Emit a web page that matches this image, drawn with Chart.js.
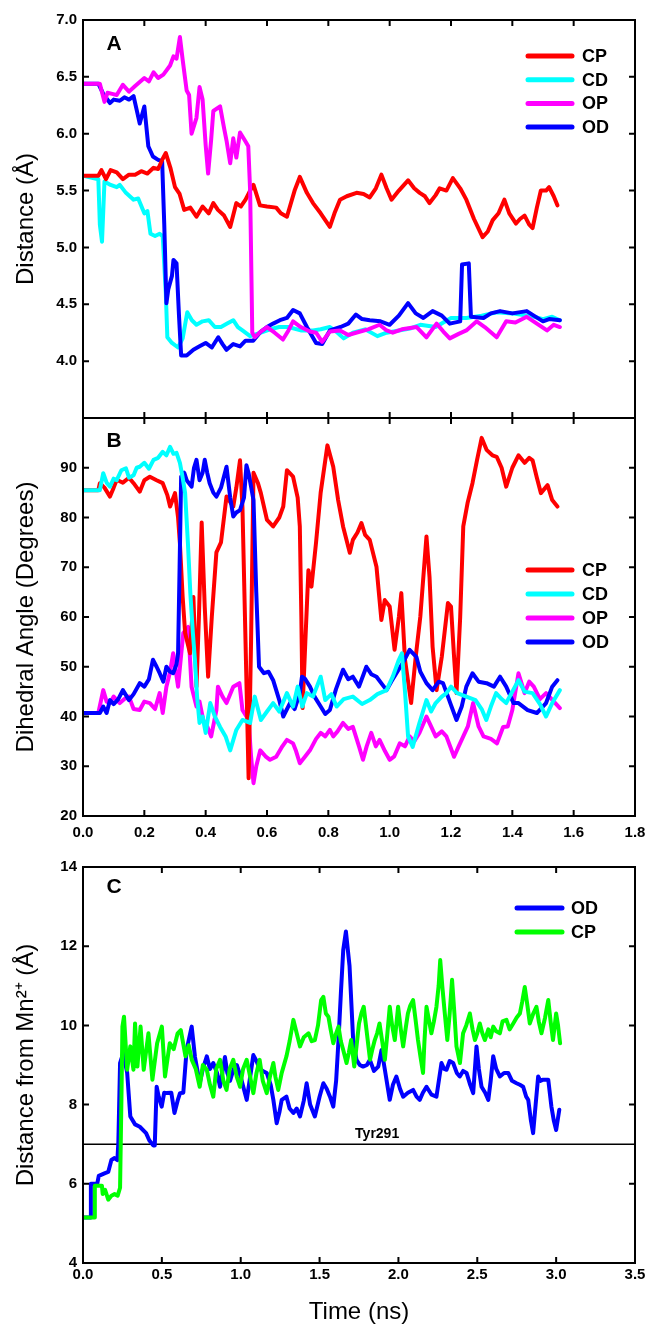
<!DOCTYPE html>
<html>
<head>
<meta charset="utf-8">
<script src="https://cdn.jsdelivr.net/npm/chart.js@4.4.1/dist/chart.umd.min.js"></script>
<style>
  body { margin: 0; background: #fff; }
  .panel { position: absolute; left: 0; }
</style>
</head>
<body>
<div class="panel" style="top:0px"><canvas id="chartA" width="649" height="420"></canvas></div>
<div class="panel" style="top:400px"><canvas id="chartB" width="649" height="445"></canvas></div>
<div class="panel" style="top:845px"><canvas id="chartC" width="649" height="484"></canvas></div>
<script>
// [time (ns), value] pairs
var namesAB = ['CP', 'CD', 'OP', 'OD'];
var namesC = ['OD', 'CP'];

// panel A: distance (Å)
var distCP = [[0,5.63],[0.05,5.63],[0.06,5.68],[0.075,5.6],[0.09,5.68],[0.11,5.66],[0.13,5.6],[0.15,5.64],[0.17,5.64],[0.19,5.67],[0.21,5.65],[0.23,5.7],[0.245,5.69],[0.26,5.78],[0.27,5.83],[0.285,5.7],[0.3,5.53],[0.315,5.47],[0.33,5.33],[0.35,5.35],[0.37,5.27],[0.39,5.36],[0.41,5.3],[0.425,5.39],[0.44,5.33],[0.46,5.28],[0.48,5.18],[0.5,5.39],[0.515,5.36],[0.53,5.42],[0.545,5.5],[0.556,5.55],[0.577,5.37],[0.6,5.36],[0.63,5.35],[0.645,5.3],[0.665,5.27],[0.69,5.5],[0.707,5.62],[0.73,5.48],[0.75,5.39],[0.775,5.3],[0.805,5.18],[0.82,5.3],[0.838,5.42],[0.86,5.45],[0.892,5.48],[0.915,5.47],[0.935,5.44],[0.955,5.52],[0.973,5.64],[0.99,5.52],[1.006,5.42],[1.03,5.5],[1.06,5.59],[1.08,5.52],[1.098,5.48],[1.115,5.45],[1.13,5.39],[1.15,5.46],[1.163,5.52],[1.185,5.5],[1.206,5.61],[1.23,5.52],[1.25,5.42],[1.275,5.25],[1.303,5.09],[1.32,5.14],[1.336,5.24],[1.355,5.3],[1.374,5.42],[1.39,5.3],[1.412,5.21],[1.425,5.25],[1.44,5.28],[1.455,5.2],[1.466,5.17],[1.48,5.35],[1.493,5.5],[1.51,5.5],[1.52,5.53],[1.535,5.45],[1.547,5.37]];
var distCD = [[0,5.63],[0.05,5.6],[0.055,5.2],[0.062,5.05],[0.07,5.58],[0.09,5.55],[0.11,5.53],[0.12,5.55],[0.14,5.48],[0.165,5.42],[0.18,5.43],[0.2,5.3],[0.21,5.32],[0.22,5.12],[0.235,5.1],[0.25,5.12],[0.26,5.1],[0.27,4.6],[0.275,4.21],[0.29,4.16],[0.31,4.12],[0.325,4.2],[0.34,4.43],[0.355,4.36],[0.37,4.32],[0.39,4.35],[0.41,4.36],[0.43,4.3],[0.45,4.3],[0.47,4.33],[0.49,4.36],[0.505,4.3],[0.52,4.27],[0.545,4.22],[0.58,4.25],[0.61,4.28],[0.64,4.3],[0.67,4.3],[0.71,4.27],[0.75,4.27],[0.775,4.28],[0.805,4.3],[0.83,4.25],[0.85,4.2],[0.88,4.25],[0.92,4.28],[0.96,4.22],[0.99,4.25],[1.03,4.27],[1.07,4.29],[1.1,4.32],[1.15,4.3],[1.2,4.38],[1.25,4.38],[1.3,4.4],[1.35,4.43],[1.4,4.42],[1.45,4.4],[1.47,4.39],[1.5,4.37],[1.53,4.39],[1.555,4.36]];
var distOP = [[0,6.44],[0.055,6.44],[0.07,6.28],[0.08,6.36],[0.095,6.35],[0.11,6.34],[0.13,6.43],[0.15,6.37],[0.17,6.42],[0.2,6.49],[0.215,6.46],[0.23,6.54],[0.245,6.49],[0.262,6.52],[0.284,6.6],[0.295,6.68],[0.305,6.66],[0.316,6.85],[0.325,6.65],[0.338,6.38],[0.346,6.34],[0.354,6.0],[0.37,6.14],[0.38,6.41],[0.39,6.3],[0.4,5.9],[0.408,5.65],[0.418,5.95],[0.425,6.2],[0.447,6.24],[0.46,6.05],[0.468,5.94],[0.48,5.74],[0.49,5.96],[0.5,5.79],[0.512,6.01],[0.528,5.94],[0.539,5.89],[0.545,5.5],[0.552,4.25],[0.56,4.21],[0.58,4.26],[0.6,4.3],[0.625,4.25],[0.652,4.19],[0.67,4.27],[0.685,4.35],[0.71,4.3],[0.74,4.26],[0.76,4.25],[0.78,4.17],[0.805,4.26],[0.838,4.27],[0.865,4.23],[0.89,4.25],[0.93,4.28],[0.967,4.32],[0.99,4.27],[1.01,4.25],[1.04,4.28],[1.088,4.3],[1.12,4.21],[1.153,4.33],[1.175,4.26],[1.196,4.2],[1.225,4.24],[1.25,4.27],[1.284,4.35],[1.31,4.3],[1.349,4.21],[1.38,4.35],[1.41,4.34],[1.447,4.39],[1.48,4.33],[1.513,4.27],[1.535,4.32],[1.555,4.3]];
var distOD = [[0,6.44],[0.05,6.44],[0.066,6.35],[0.088,6.27],[0.1,6.3],[0.12,6.29],[0.135,6.32],[0.15,6.3],[0.165,6.33],[0.175,6.21],[0.185,6.09],[0.2,6.24],[0.213,5.89],[0.228,5.8],[0.245,5.77],[0.258,5.76],[0.265,5.2],[0.272,4.51],[0.278,4.63],[0.29,4.75],[0.295,4.89],[0.305,4.86],[0.313,4.4],[0.32,4.05],[0.338,4.05],[0.36,4.1],[0.38,4.13],[0.4,4.16],[0.42,4.12],[0.441,4.21],[0.455,4.15],[0.468,4.1],[0.49,4.15],[0.512,4.13],[0.53,4.18],[0.555,4.18],[0.58,4.26],[0.6,4.3],[0.62,4.33],[0.642,4.36],[0.665,4.38],[0.685,4.45],[0.707,4.42],[0.73,4.3],[0.76,4.16],[0.78,4.15],[0.805,4.27],[0.84,4.3],[0.865,4.33],[0.89,4.41],[0.91,4.37],[0.935,4.36],[0.97,4.35],[1.0,4.32],[1.03,4.4],[1.06,4.51],[1.085,4.42],[1.11,4.38],[1.14,4.44],[1.17,4.4],[1.196,4.33],[1.23,4.35],[1.236,4.85],[1.258,4.86],[1.265,4.39],[1.306,4.38],[1.33,4.42],[1.36,4.44],[1.4,4.42],[1.447,4.44],[1.47,4.4],[1.5,4.35],[1.52,4.37],[1.555,4.36]];

// panel B: dihedral angle (degrees)
var angCP = [[0,85.5],[0.05,85.5],[0.055,86.9],[0.07,86],[0.088,84.2],[0.1,86],[0.11,87.6],[0.13,87],[0.15,88],[0.165,86.9],[0.185,85.2],[0.2,87.5],[0.218,88.2],[0.24,87.5],[0.26,86.9],[0.275,84.5],[0.284,82.2],[0.3,84.9],[0.31,80],[0.316,74.8],[0.325,64],[0.333,56.8],[0.349,52.7],[0.36,64],[0.37,46],[0.378,60],[0.387,79],[0.397,62],[0.408,48],[0.42,60],[0.435,73],[0.45,75],[0.468,84.2],[0.49,82.2],[0.5,86],[0.512,91.5],[0.52,82],[0.53,55],[0.54,27.6],[0.548,55],[0.556,89],[0.57,87],[0.58,84.9],[0.6,79.5],[0.62,78.2],[0.64,80],[0.653,82.2],[0.665,89.5],[0.685,88.2],[0.7,84],[0.707,78.2],[0.712,60],[0.716,41.7],[0.725,55],[0.735,69.4],[0.745,66.1],[0.76,75],[0.775,85],[0.797,94.5],[0.816,90.2],[0.832,83.5],[0.848,78.2],[0.87,72.9],[0.88,75.5],[0.895,77],[0.908,78.9],[0.92,76.5],[0.935,75.5],[0.957,70.1],[0.973,59.4],[0.984,63.4],[1.0,62.1],[1.016,53.4],[1.03,60],[1.038,64.8],[1.05,51.4],[1.07,42.7],[1.085,52],[1.1,60.1],[1.12,76.2],[1.13,68],[1.14,54],[1.153,45.3],[1.17,52],[1.19,62.8],[1.2,62.1],[1.21,52],[1.218,44.7],[1.23,60],[1.24,78.2],[1.254,82.9],[1.27,86.9],[1.285,91.6],[1.3,96],[1.316,93.6],[1.335,92.5],[1.349,92.2],[1.365,90],[1.38,86.2],[1.4,90],[1.42,92.5],[1.44,91],[1.455,92],[1.466,91.5],[1.48,88],[1.493,84.9],[1.515,86.5],[1.53,83.5],[1.547,82.2]];
var angCD = [[0,85.5],[0.055,85.5],[0.066,88.9],[0.077,87],[0.088,86.2],[0.1,87.8],[0.11,87.5],[0.125,89.5],[0.14,89.9],[0.15,88],[0.165,88.5],[0.175,90],[0.185,90.2],[0.2,91],[0.215,89.8],[0.23,91.6],[0.245,92],[0.26,93.2],[0.272,92.5],[0.284,94.2],[0.295,92.8],[0.305,93],[0.316,91],[0.325,88],[0.333,84.9],[0.342,75],[0.35,64.8],[0.358,57],[0.365,51.4],[0.372,44],[0.38,38.7],[0.39,40],[0.4,36.7],[0.415,42.7],[0.43,40],[0.447,37.9],[0.465,36],[0.48,33.2],[0.5,37.3],[0.52,39.3],[0.545,38.7],[0.56,44],[0.58,39.3],[0.6,41],[0.62,42.7],[0.64,41],[0.665,44.7],[0.685,42],[0.7,46],[0.715,42],[0.73,44.7],[0.75,44],[0.775,48],[0.79,43.3],[0.81,44.5],[0.827,42],[0.85,43.5],[0.88,44],[0.91,42.5],[0.935,43.3],[0.96,44.5],[0.99,45.3],[1.01,48],[1.03,51.4],[1.04,52.7],[1.05,45],[1.06,36],[1.075,33.9],[1.097,38.7],[1.12,43.3],[1.135,41],[1.15,42.7],[1.17,44],[1.185,44.7],[1.2,46],[1.22,44.7],[1.25,44],[1.28,43.3],[1.3,41.5],[1.315,39.3],[1.33,42],[1.347,44.7],[1.365,43.5],[1.38,42.7],[1.4,45],[1.42,47.3],[1.44,45],[1.466,44.7],[1.49,42.5],[1.51,40],[1.53,42.7],[1.555,45.3]];
var angOP = [[0,40.7],[0.05,40.7],[0.066,45.3],[0.077,43],[0.088,42.7],[0.1,44],[0.12,42.7],[0.135,43.5],[0.15,44],[0.165,41.5],[0.185,41.3],[0.2,43],[0.218,42.7],[0.235,41.5],[0.25,44.7],[0.26,40.7],[0.272,46],[0.284,49],[0.294,52.7],[0.31,46],[0.327,56.8],[0.343,58],[0.354,46],[0.37,42],[0.38,43],[0.392,39.3],[0.405,38],[0.418,36],[0.435,41.3],[0.44,46],[0.455,44],[0.468,42.7],[0.49,46],[0.51,46.7],[0.52,41.3],[0.54,39.3],[0.548,32],[0.556,26.6],[0.565,30],[0.578,33.2],[0.595,32],[0.61,31.3],[0.63,31.9],[0.65,34],[0.665,35.3],[0.685,34.6],[0.695,33],[0.707,30.6],[0.725,32],[0.74,33.2],[0.76,35.5],[0.775,36.7],[0.79,36],[0.805,37.3],[0.816,36],[0.83,37],[0.848,38.7],[0.865,37.5],[0.88,37.9],[0.9,34],[0.913,31.3],[0.925,34],[0.94,36.7],[0.955,34],[0.967,35.3],[0.985,33],[1.0,31.3],[1.015,32],[1.033,34.6],[1.05,34],[1.065,36],[1.08,35],[1.097,36.7],[1.12,40],[1.135,38],[1.15,36],[1.17,37],[1.185,36],[1.21,31.9],[1.225,34],[1.24,36],[1.255,38],[1.272,42.7],[1.29,38],[1.306,36],[1.33,35.5],[1.35,34.6],[1.37,37.9],[1.385,38],[1.4,41.3],[1.42,48.7],[1.44,44.7],[1.455,47],[1.47,46],[1.49,43.5],[1.51,44.7],[1.54,42.7],[1.555,41.7]];
var angOD = [[0,40.7],[0.055,40.7],[0.066,42],[0.077,40.7],[0.088,43.3],[0.1,42.5],[0.115,43.5],[0.13,45.3],[0.15,43.3],[0.165,44.5],[0.185,46.7],[0.2,46],[0.215,47.5],[0.228,51.4],[0.24,50],[0.25,48.7],[0.262,47],[0.272,50],[0.284,49],[0.294,48.7],[0.305,50.5],[0.31,52.7],[0.315,70],[0.32,88.2],[0.33,89],[0.338,87.5],[0.354,86.2],[0.362,90],[0.37,91.6],[0.38,87.5],[0.39,89],[0.397,91.6],[0.405,89],[0.413,86.9],[0.425,85],[0.435,84.2],[0.45,86],[0.468,90.2],[0.48,84],[0.49,80.2],[0.5,81],[0.512,81.5],[0.525,84],[0.533,90.5],[0.54,88.9],[0.556,83.5],[0.565,65],[0.574,50],[0.59,48.7],[0.605,49],[0.62,47.3],[0.64,43.3],[0.653,40],[0.675,42.7],[0.69,41.5],[0.707,44.7],[0.714,48],[0.725,47.5],[0.74,46],[0.755,44],[0.775,42],[0.79,40.5],[0.805,41.3],[0.825,45.5],[0.848,49.4],[0.865,47.5],[0.88,48],[0.9,46],[0.924,50],[0.94,48.5],[0.957,48],[0.975,46.5],[0.99,45.3],[1.005,47],[1.022,48.7],[1.045,51],[1.065,53.4],[1.087,52],[1.1,49],[1.12,46.7],[1.14,45.3],[1.16,47],[1.174,46.7],[1.19,44],[1.2,42.3],[1.218,39.3],[1.235,42],[1.25,46],[1.27,48.7],[1.29,47],[1.316,46.7],[1.34,46],[1.36,48],[1.38,46],[1.404,42.7],[1.42,42.7],[1.45,41.3],[1.48,40.7],[1.51,42.7],[1.53,46],[1.547,47.3]];

// panel C: distance from Mn2+ (Å), 0-3 ns
var mnOD = [[0,5.15],[0.045,5.15],[0.05,6.0],[0.09,6.0],[0.1,6.2],[0.14,6.27],[0.16,6.3],[0.18,6.6],[0.2,6.65],[0.218,6.6],[0.224,7.03],[0.235,9.05],[0.255,9.3],[0.28,8.8],[0.3,7.7],[0.33,7.5],[0.36,7.44],[0.4,7.28],[0.42,7.1],[0.445,6.97],[0.455,6.97],[0.467,8.45],[0.48,8.2],[0.499,7.95],[0.515,8.3],[0.53,8.29],[0.56,8.3],[0.58,7.79],[0.6,8.1],[0.615,8.29],[0.636,8.3],[0.657,9.38],[0.689,9.97],[0.71,9.2],[0.74,8.54],[0.76,8.9],[0.785,9.22],[0.805,8.9],[0.826,9.05],[0.85,8.8],[0.869,8.45],[0.9,9.2],[0.915,8.8],[0.932,8.6],[0.955,8.9],[0.975,9.0],[1.0,8.7],[1.038,8.12],[1.06,8.7],[1.08,9.25],[1.1,9.1],[1.12,8.9],[1.14,8.85],[1.165,8.8],[1.19,8.5],[1.207,8.12],[1.228,7.53],[1.245,7.8],[1.26,8.12],[1.29,8.2],[1.31,7.9],[1.334,7.79],[1.355,7.9],[1.376,7.7],[1.4,8.1],[1.418,8.54],[1.44,8.0],[1.47,7.7],[1.5,8.2],[1.524,8.54],[1.545,8.4],[1.566,8.2],[1.587,7.95],[1.605,8.6],[1.62,9.63],[1.635,10.8],[1.65,11.9],[1.667,12.37],[1.69,11.5],[1.713,9.63],[1.734,9.13],[1.755,9.0],[1.776,8.96],[1.8,9.0],[1.819,9.13],[1.845,8.85],[1.872,8.96],[1.893,9.38],[1.914,8.88],[1.945,8.12],[1.965,8.5],[1.987,8.71],[2.01,8.4],[2.03,8.2],[2.06,8.3],[2.093,8.37],[2.115,8.2],[2.135,8.12],[2.155,8.3],[2.178,8.45],[2.21,8.25],[2.241,8.2],[2.273,9.05],[2.29,8.9],[2.305,8.88],[2.325,9.1],[2.347,9.05],[2.37,8.8],[2.389,8.71],[2.41,8.85],[2.432,8.8],[2.455,8.5],[2.474,8.29],[2.495,9.47],[2.51,8.9],[2.527,8.45],[2.55,8.3],[2.57,8.12],[2.585,8.6],[2.601,9.22],[2.62,8.9],[2.643,8.71],[2.67,8.8],[2.696,8.8],[2.72,8.6],[2.749,8.54],[2.77,8.5],[2.791,8.45],[2.81,8.2],[2.823,8.12],[2.84,7.6],[2.854,7.28],[2.87,8.0],[2.886,8.71],[2.9,8.6],[2.918,8.63],[2.95,8.63],[2.97,7.95],[2.985,7.6],[3.0,7.36],[3.02,7.87]];
var mnCP = [[0,5.15],[0.07,5.15],[0.075,5.95],[0.12,5.95],[0.125,5.74],[0.14,5.85],[0.16,5.6],[0.18,5.7],[0.2,5.74],[0.22,5.7],[0.235,5.9],[0.245,8.5],[0.25,9.97],[0.26,10.22],[0.28,8.88],[0.3,9.47],[0.32,8.88],[0.33,10.05],[0.345,8.96],[0.365,9.97],[0.385,8.88],[0.415,9.8],[0.44,8.63],[0.47,9.55],[0.5,9.97],[0.52,8.71],[0.55,9.55],[0.575,9.4],[0.6,9.8],[0.62,9.88],[0.65,9.22],[0.67,9.5],[0.69,9.13],[0.715,8.9],[0.74,8.45],[0.76,9.0],[0.785,8.88],[0.805,8.5],[0.826,8.2],[0.845,8.9],[0.869,9.13],[0.89,8.6],[0.91,8.37],[0.93,8.9],[0.953,9.13],[0.975,8.7],[0.996,8.45],[1.015,8.9],[1.038,9.13],[1.06,8.7],[1.08,8.29],[1.1,8.8],[1.12,9.13],[1.14,8.6],[1.165,8.29],[1.185,8.7],[1.207,9.05],[1.22,8.7],[1.238,8.37],[1.26,8.8],[1.29,9.22],[1.31,9.6],[1.334,10.14],[1.355,9.8],[1.376,9.47],[1.4,9.7],[1.43,9.8],[1.45,9.6],[1.47,9.63],[1.49,10.0],[1.51,10.64],[1.524,10.72],[1.54,10.3],[1.556,10.22],[1.57,9.9],[1.587,9.55],[1.605,9.8],[1.62,9.97],[1.635,9.6],[1.65,9.38],[1.671,9.05],[1.685,9.3],[1.7,9.63],[1.72,8.96],[1.735,9.5],[1.75,10.05],[1.765,10.3],[1.78,10.47],[1.8,9.8],[1.82,9.13],[1.835,9.4],[1.85,9.63],[1.865,9.8],[1.88,10.05],[1.897,9.6],[1.914,9.13],[1.93,9.8],[1.945,10.47],[1.96,10.0],[1.977,9.63],[1.998,10.47],[2.015,9.9],[2.03,9.47],[2.045,9.9],[2.06,10.3],[2.075,10.5],[2.093,10.64],[2.11,10.1],[2.124,9.63],[2.14,9.2],[2.156,8.8],[2.165,9.6],[2.178,10.47],[2.195,10.1],[2.209,9.8],[2.225,10.1],[2.241,10.47],[2.255,11.0],[2.265,11.65],[2.278,11.0],[2.29,10.47],[2.31,9.63],[2.325,10.3],[2.34,11.15],[2.355,10.3],[2.368,9.47],[2.39,9.05],[2.41,9.8],[2.43,10.0],[2.453,10.3],[2.47,9.9],[2.485,9.63],[2.5,9.8],[2.516,10.05],[2.532,9.8],[2.548,9.63],[2.57,9.9],[2.585,9.7],[2.601,9.97],[2.62,9.85],[2.643,9.8],[2.66,10.1],[2.685,10.14],[2.705,9.9],[2.728,10.05],[2.75,10.2],[2.77,10.3],[2.785,10.6],[2.801,10.97],[2.818,10.5],[2.833,10.05],[2.855,10.3],[2.875,10.47],[2.89,10.1],[2.907,9.8],[2.93,10.2],[2.95,10.64],[2.965,10.1],[2.98,9.63],[3.0,10.3],[3.012,10.0],[3.025,9.55]];
var tyrLine = [[0,7],[3.5,7]];

var RED = '#ff0000', CYAN = '#00ffff', MAGENTA = '#ff00ff', BLUE = '#0000ff', GREEN = '#00ff00';
var FONT = '"Liberation Sans", Arial, sans-serif';
Chart.defaults.font.family = FONT;
Chart.defaults.color = '#000';

function pts(arr) {
    return arr.map(p => ({x: p[0], y: p[1]}));
}

function series(label, arr, color, order) {
    return {label: label, data: pts(arr), borderColor: color, backgroundColor: color,
            borderWidth: 4, pointRadius: 0, tension: 0, order: order,
            borderJoinStyle: 'round', borderCapStyle: 'round'};
}

// box frame with inward ticks on all four sides, plus the panel letter
var framePlugin = {
    id: 'frame',
    afterDatasetsDraw(chart, args, opts) {
        var ctx = chart.ctx, a = chart.chartArea, sx = chart.scales.x, sy = chart.scales.y;
        ctx.save();
        ctx.strokeStyle = '#000';
        ctx.lineWidth = 2;
        ctx.strokeRect(a.left, a.top, a.right - a.left, a.bottom - a.top);
        ctx.beginPath();
        sx.ticks.forEach(t => {
            var px = sx.getPixelForValue(t.value);
            if (px < a.left + 2 || px > a.right - 2) return;
            ctx.moveTo(px, a.top); ctx.lineTo(px, a.top + 6);
            ctx.moveTo(px, a.bottom); ctx.lineTo(px, a.bottom - 6);
        });
        sy.ticks.forEach(t => {
            var py = sy.getPixelForValue(t.value);
            if (py < a.top + 2 || py > a.bottom - 2) return;
            ctx.moveTo(a.left, py); ctx.lineTo(a.left + 6, py);
            ctx.moveTo(a.right, py); ctx.lineTo(a.right - 6, py);
        });
        ctx.stroke();
        ctx.fillStyle = '#000';
        ctx.font = 'bold 21px ' + FONT;
        ctx.textAlign = 'center';
        ctx.textBaseline = 'middle';
        ctx.fillText(opts.letter, opts.x, opts.y);
        if (opts.refText) {
            ctx.font = 'bold 14px ' + FONT;
            ctx.textBaseline = 'bottom';
            ctx.fillText(opts.refText, sx.getPixelForValue(opts.refX), sy.getPixelForValue(opts.refY) - 3);
        }
        ctx.restore();
    }
};

// legend drawn inside the plot area
var innerLegend = {
    id: 'innerLegend',
    afterDatasetsDraw(chart, args, opts) {
        var ctx = chart.ctx;
        ctx.save();
        ctx.font = 'bold 18px ' + FONT;
        ctx.textAlign = 'left';
        ctx.textBaseline = 'middle';
        ctx.lineWidth = 5;
        ctx.lineCap = 'round';
        var row = 0;
        chart.data.datasets.forEach(ds => {
            if (!ds.label) return;
            var y = opts.y + row * opts.gap;
            ctx.strokeStyle = ds.borderColor;
            ctx.beginPath();
            ctx.moveTo(opts.x1, y); ctx.lineTo(opts.x2, y);
            ctx.stroke();
            ctx.fillStyle = '#000';
            ctx.fillText(ds.label, opts.tx, y + 1);
            row++;
        });
        ctx.restore();
    }
};

function makeOptions(p) {
    return {
        responsive: false,
        animation: false,
        layout: {padding: p.padding},
        plugins: {
            legend: {display: false},
            tooltip: {enabled: false},
            frame: p.frame,
            innerLegend: p.legend
        },
        scales: {
            x: {
                type: 'linear', min: p.xMin, max: p.xMax,
                grid: {display: false, drawTicks: false},
                border: {display: false},
                ticks: {display: p.xLabels, stepSize: p.xStep, padding: p.xPad, maxRotation: 0, autoSkip: false,
                        font: {size: 15, weight: 'bold'}, color: '#000',
                        callback: v => v.toFixed(1)},
                title: {display: !!p.xTitle, text: p.xTitle || '', font: {size: 24}, color: '#000',
                        padding: {top: 0, bottom: 2}},
                afterFit: s => { s.height = p.xHeight; s.paddingLeft = 0; s.paddingRight = 0; }
            },
            y: {
                min: p.yMin, max: p.yMax,
                grid: {display: false, drawTicks: false},
                border: {display: false},
                ticks: {stepSize: p.yStep, padding: 6, font: {size: 15, weight: 'bold'}, color: '#000',
                        callback: p.yCallback},
                title: {display: true, text: p.yTitle, font: {size: 24}, color: '#000',
                        padding: {top: 12, bottom: 0}},
                afterFit: s => { s.width = 83; s.paddingTop = 0; s.paddingBottom = 0; }
            }
        }
    };
}

// A
new Chart(document.getElementById('chartA'), {
    type: 'line',
    data: {datasets: [
        series(namesAB[0], distCP, RED, 1),
        series(namesAB[1], distCD, CYAN, 3),
        series(namesAB[2], distOP, MAGENTA, 0),
        series(namesAB[3], distOD, BLUE, 2)
    ]},
    options: makeOptions({
        padding: {top: 20, right: 14, bottom: 2, left: 0},
        xMin: 0, xMax: 1.8, xStep: 0.2, xLabels: false, xPad: 0, xHeight: 0,
        yMin: 3.5, yMax: 7.0, yStep: 0.5, yTitle: 'Distance (Å)',
        yCallback: v => (Math.abs(v - 3.5) < 1e-6 ? '' : v.toFixed(1)),
        frame: {letter: 'A', x: 114, y: 44},
        legend: {x1: 528, x2: 572, tx: 582, y: 56, gap: 23.7}
    }),
    plugins: [framePlugin, innerLegend]
});

// B
new Chart(document.getElementById('chartB'), {
    type: 'line',
    data: {datasets: [
        series(namesAB[0], angCP, RED, 2),
        series(namesAB[1], angCD, CYAN, 0),
        series(namesAB[2], angOP, MAGENTA, 3),
        series(namesAB[3], angOD, BLUE, 1)
    ]},
    options: makeOptions({
        padding: {top: 18, right: 14, bottom: 0, left: 0},
        xMin: 0, xMax: 1.8, xStep: 0.2, xLabels: true, xPad: 8, xHeight: 29,
        yMin: 20, yMax: 100, yStep: 10, yTitle: 'Dihedral Angle (Degrees)',
        yCallback: v => (v >= 100 ? '' : v),
        frame: {letter: 'B', x: 114, y: 41},
        legend: {x1: 528, x2: 572, tx: 582, y: 170, gap: 24}
    }),
    plugins: [framePlugin, innerLegend]
});

// C
var tyrSet = {label: '', data: pts(tyrLine), borderColor: '#000', borderWidth: 1.5, pointRadius: 0, order: 2};
new Chart(document.getElementById('chartC'), {
    type: 'line',
    data: {datasets: [
        series(namesC[0], mnOD, BLUE, 1),
        series(namesC[1], mnCP, GREEN, 0),
        tyrSet
    ]},
    options: makeOptions({
        padding: {top: 22, right: 14, bottom: 0, left: 0},
        xMin: 0, xMax: 3.5, xStep: 0.5, xLabels: true, xPad: 3, xHeight: 66, xTitle: 'Time (ns)',
        yMin: 4, yMax: 14, yStep: 2, yTitle: 'Distance from Mn²⁺ (Å)',
        yCallback: v => v,
        frame: {letter: 'C', x: 114, y: 42, refText: 'Tyr291', refX: 1.865, refY: 7},
        legend: {x1: 517, x2: 562, tx: 571, y: 63, gap: 24}
    }),
    plugins: [framePlugin, innerLegend]
});
</script>
</body>
</html>
